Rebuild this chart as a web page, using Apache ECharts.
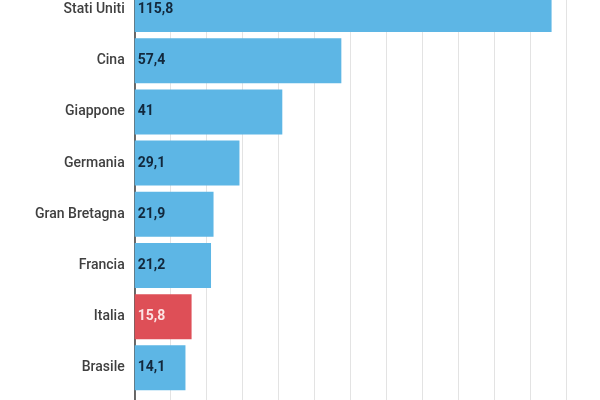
<!DOCTYPE html>
<html>
<head>
<meta charset="utf-8">
<script src="https://cdn.jsdelivr.net/npm/echarts@6/dist/echarts.min.js"></script>
<style>html,body{margin:0;padding:0;background:#fff}#c{width:600px;height:400px}</style>
</head>
<body>
<div id="c"></div>
<script>
var categories = ['Stati Uniti', 'Cina', 'Giappone', 'Germania', 'Gran Bretagna', 'Francia', 'Italia', 'Brasile'];
var values = [115.8, 57.4, 41, 29.1, 21.9, 21.2, 15.8, 14.1];
var highlight = 'Italia';

var chart = echarts.init(document.getElementById('c'), null, {renderer: 'canvas'});
var data = values.map(function (v, i) {
  var hi = categories[i] === highlight;
  return {
    value: v,
    itemStyle: {color: hi ? '#DE4F57' : '#5DB6E5'},
    label: {color: hi ? '#FCE4E4' : '#12283C'}
  };
});
chart.setOption({
  animation: false,
  grid: {left: 134.7, width: 432, top: -16, height: 460.6, outerBoundsMode: 'none', containLabel: false},
  xAxis: {
    type: 'value', min: 0, max: 120, interval: 10,
    axisLabel: {show: false}, axisTick: {show: false}, axisLine: {show: false},
    splitLine: {show: true, lineStyle: {color: '#E3E3E3', width: 1}}
  },
  yAxis: {
    type: 'category', inverse: true,
    data: categories.concat(['']),
    axisTick: {show: false},
    axisLine: {show: true, lineStyle: {color: '#3A3A3A', width: 1.5}},
    axisLabel: {color: '#404040', fontFamily: 'Roboto', fontSize: 14, fontWeight: 500, margin: 10}
  },
  series: [{
    type: 'bar',
    data: data,
    barWidth: 45,
    label: {
      show: true, position: 'insideLeft', distance: 3,
      fontFamily: 'Roboto', fontSize: 14, fontWeight: 'bold',
      formatter: function (p) { return String(p.value).replace('.', ','); }
    }
  }]
});
</script>
</body>
</html>
